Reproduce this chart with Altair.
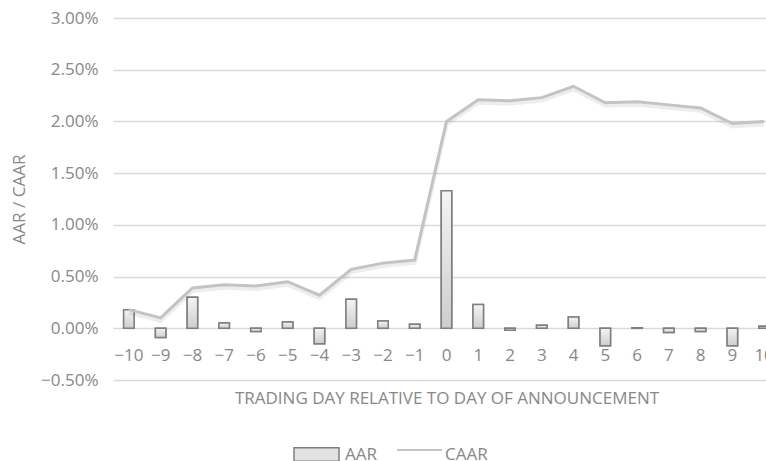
import altair as alt
import pandas as pd

days = list(range(-10, 11))
aar_pct = [0.18, -0.09, 0.30, 0.05, -0.03, 0.06, -0.15, 0.28, 0.07, 0.04, 1.33,
           0.23, -0.02, 0.03, 0.11, -0.17, 0.005, -0.04, -0.03, -0.17, 0.02]
caar_pct = [0.18, 0.10, 0.39, 0.42, 0.41, 0.45, 0.32, 0.57, 0.63, 0.66, 2.00,
            2.21, 2.20, 2.23, 2.34, 2.18, 2.19, 2.16, 2.13, 1.98, 2.00]
y_ticks = [-0.005, 0.0, 0.005, 0.01, 0.015, 0.02, 0.025, 0.03]

df = pd.DataFrame({
    "day": days,
    "AAR": [v / 100 for v in aar_pct],
    "CAAR": [v / 100 for v in caar_pct],
    "s_aar": ["AAR"] * len(days),
    "s_caar": ["CAAR"] * len(days),
})

FONT = "Open Sans"
TXT = "#888888"

x_enc = alt.X(
    "day:O",
    sort=days,
    scale=alt.Scale(range=[0, 667], paddingInner=0.67, paddingOuter=0.335),
    axis=alt.Axis(
        title="TRADING DAY RELATIVE TO DAY OF ANNOUNCEMENT",
        offset=-52,
        domain=False,
        ticks=False,
        tickSize=0,
        grid=False,
        labelAngle=0,
        labelPadding=19,
        labelExpr="replace(datum.label, '-', '\u2212')",
        titlePadding=27,
    ),
)
y_scale = alt.Scale(domain=[-0.005, 0.03], nice=False, zero=False)
y_axis = alt.Axis(
    title="AAR / CAAR",
    values=y_ticks,
    format=".2%",
    domain=False,
    ticks=False,
    tickSize=0,
    labelPadding=15,
    titlePadding=12,
    grid=True,
)

base = alt.Chart(df)

grad = alt.Gradient(
    gradient="linear",
    stops=[alt.GradientStop(color="#f4f4f4", offset=0),
           alt.GradientStop(color="#cdcdcd", offset=1)],
    x1=0, x2=0, y1=0, y2=1,
)

bars_legend = base.mark_bar(stroke="#7f7f7f", strokeWidth=1.5).encode(
    x=x_enc,
    y=alt.Y("AAR:Q", scale=y_scale, axis=y_axis),
    fill=alt.Fill(
        "s_aar:N",
        scale=alt.Scale(domain=["AAR"], range=["#e2e2e2"]),
        legend=alt.Legend(
            title=None, orient="none", legendX=180, legendY=413,
            direction="horizontal", padding=0,
            symbolType="M-1,-0.3H1V0.3H-1Z", symbolSize=2025,
            symbolStrokeColor="#7f7f7f", symbolStrokeWidth=1.5,
            labelOffset=5, labelFont=FONT, labelFontSize=17, labelColor=TXT,
        ),
    ),
)

bars = base.mark_bar(fill=grad, stroke="#7f7f7f", strokeWidth=1.5).encode(
    x=x_enc, y=alt.Y("AAR:Q", scale=y_scale)
)

line_shadow = base.mark_line(
    stroke="#000000", strokeOpacity=0.07, strokeWidth=4, yOffset=3
).encode(x=x_enc, y=alt.Y("CAAR:Q", scale=y_scale))

line = base.mark_line(strokeWidth=3).encode(
    x=x_enc,
    y=alt.Y("CAAR:Q", scale=y_scale),
    stroke=alt.Stroke(
        "s_caar:N",
        scale=alt.Scale(domain=["CAAR"], range=["#c3c3c3"]),
        legend=alt.Legend(
            title=None, orient="none", legendX=283, legendY=413,
            direction="horizontal", padding=0,
            symbolType="M-1,-0.2H1", symbolSize=2025, symbolStrokeWidth=2,
            labelOffset=2, labelFont=FONT, labelFontSize=17, labelColor=TXT,
        ),
    ),
)

chart = alt.layer(bars_legend, bars, line_shadow, line).resolve_scale(
    fill="independent", stroke="independent"
).properties(
    width=653,
    height=362,
    background="white",
    autosize=alt.AutoSizeParams(type="none"),
    padding={"left": 113, "top": 18, "right": 0, "bottom": 81},
).configure_view(stroke=None).configure_axis(
    labelFont=FONT, labelFontSize=17, labelColor=TXT,
    titleFont=FONT, titleFontSize=17, titleColor=TXT, titleFontWeight="normal",
    gridColor="#d9d9d9", gridWidth=1.5,
)

chart.save("out.html", embed_options={"renderer": "svg", "actions": False})
